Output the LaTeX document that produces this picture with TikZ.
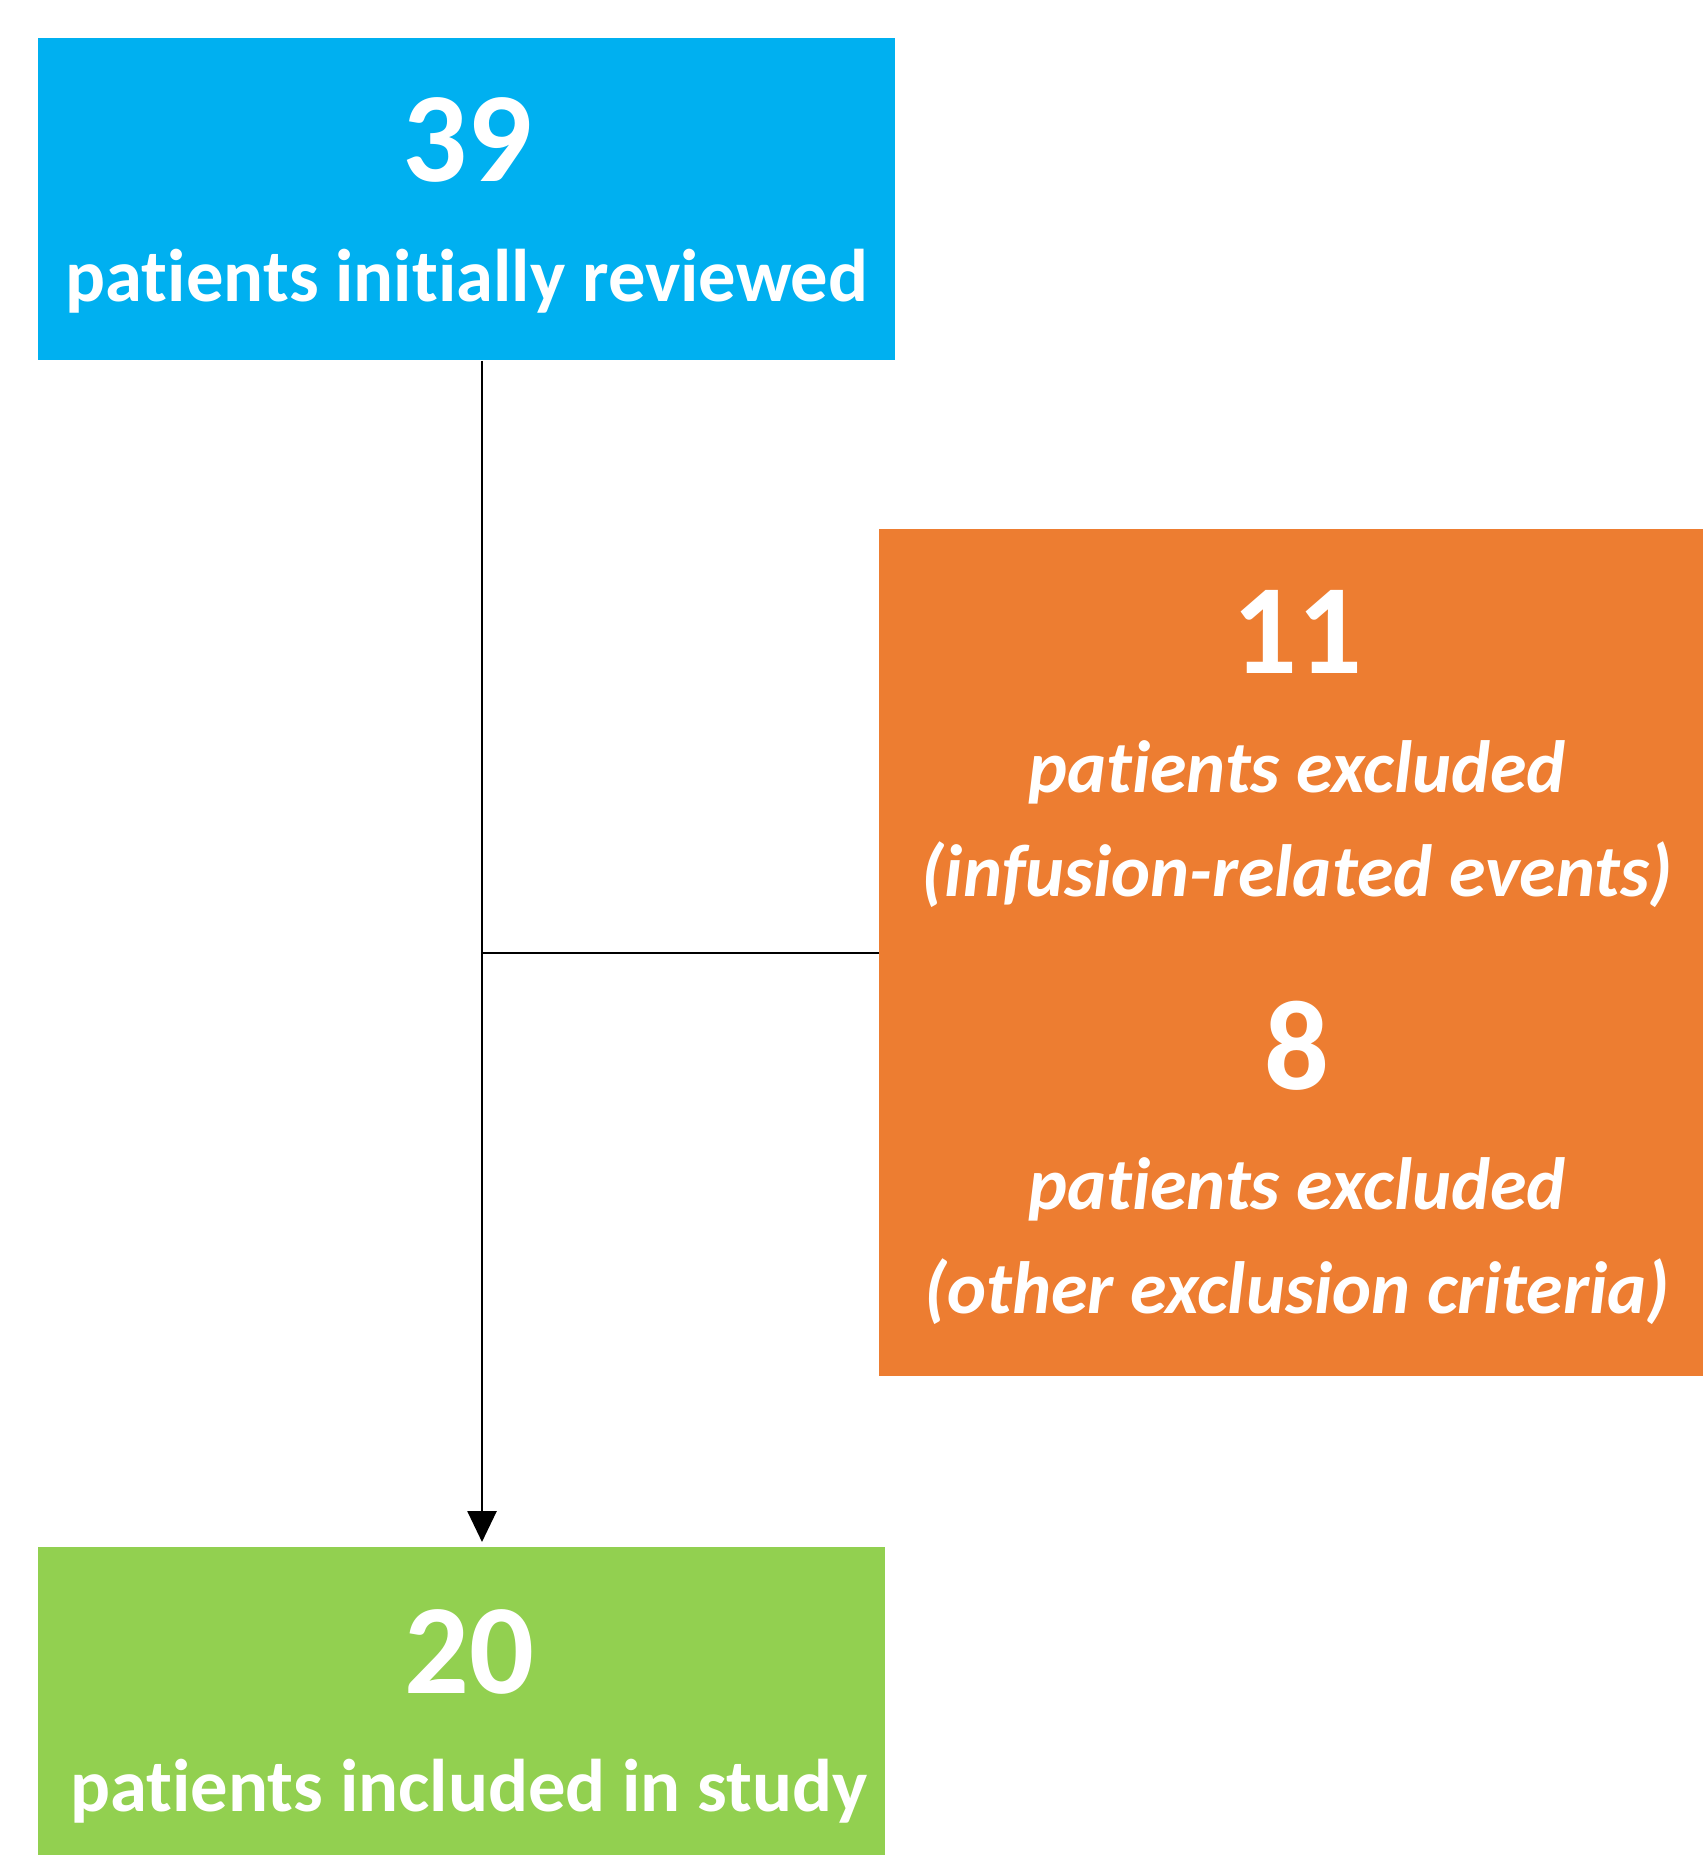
\documentclass[tikz,border=0pt]{standalone}
\usepackage{fontspec}
\setmainfont{Carlito}[Ligatures=NoCommon]
\usetikzlibrary{arrows.meta}

\definecolor{reviewblue}{HTML}{00B0F0}
\definecolor{excludeorange}{HTML}{ED7D31}
\definecolor{includegreen}{HTML}{92D050}

\tikzset{
  box/.style={draw=none, inner sep=0pt, anchor=north west},
  count/.style={text=white, anchor=base, inner sep=0pt, font=\bfseries\fontsize{64}{64}\selectfont},
  lbl/.style={text=white, anchor=base, inner sep=0pt, font=\bfseries\fontsize{37.3}{37.3}\selectfont},
  excl/.style={lbl, font=\bfseries\itshape\fontsize{37}{37}\selectfont},
  flow/.style={line width=1.35pt, black},
}

\begin{document}
\begin{tikzpicture}[x=0.5pt, y=0.5pt]
\useasboundingbox (0,0) rectangle (1703,-1855);

% boxes
\node[box, fill=reviewblue, minimum width=428.5pt, minimum height=161pt] (reviewed) at (38,-38) {};
\node[box, fill=excludeorange, minimum width=412pt, minimum height=423.5pt] (excluded) at (879,-529) {};
\node[box, fill=includegreen, minimum width=423.5pt, minimum height=154pt] (included) at (38,-1547) {};

% counts and labels
\node[count] (n39) at (467,-182) {39};
\node[lbl] (t39) at (467,-302) {patients initially reviewed};

\node[count] (n11) at (1297,-673) {11};
\node[excl] (t11a) at (1297,-792) {patients excluded};
\node[excl] (t11b) at (1297,-896) {(infusion-related events)};
\node[count] (n8) at (1297,-1089) {8};
\node[excl] (t8a) at (1297,-1209) {patients excluded};
\node[excl] (t8b) at (1297,-1313) {(other exclusion criteria)};

\node[count] (n20) at (469,-1693) {20};
\node[lbl] (t20) at (469,-1811) {patients included in study};

% connectors
\coordinate (trunk) at (482,0);
\draw[flow, -{Triangle[width=14.5pt,length=15.5pt]}, shorten >=2.5pt] (reviewed.south -| trunk) -- (included.north -| trunk);
\draw[flow] (excluded.west) -- (excluded.west -| trunk);
\end{tikzpicture}
\end{document}
